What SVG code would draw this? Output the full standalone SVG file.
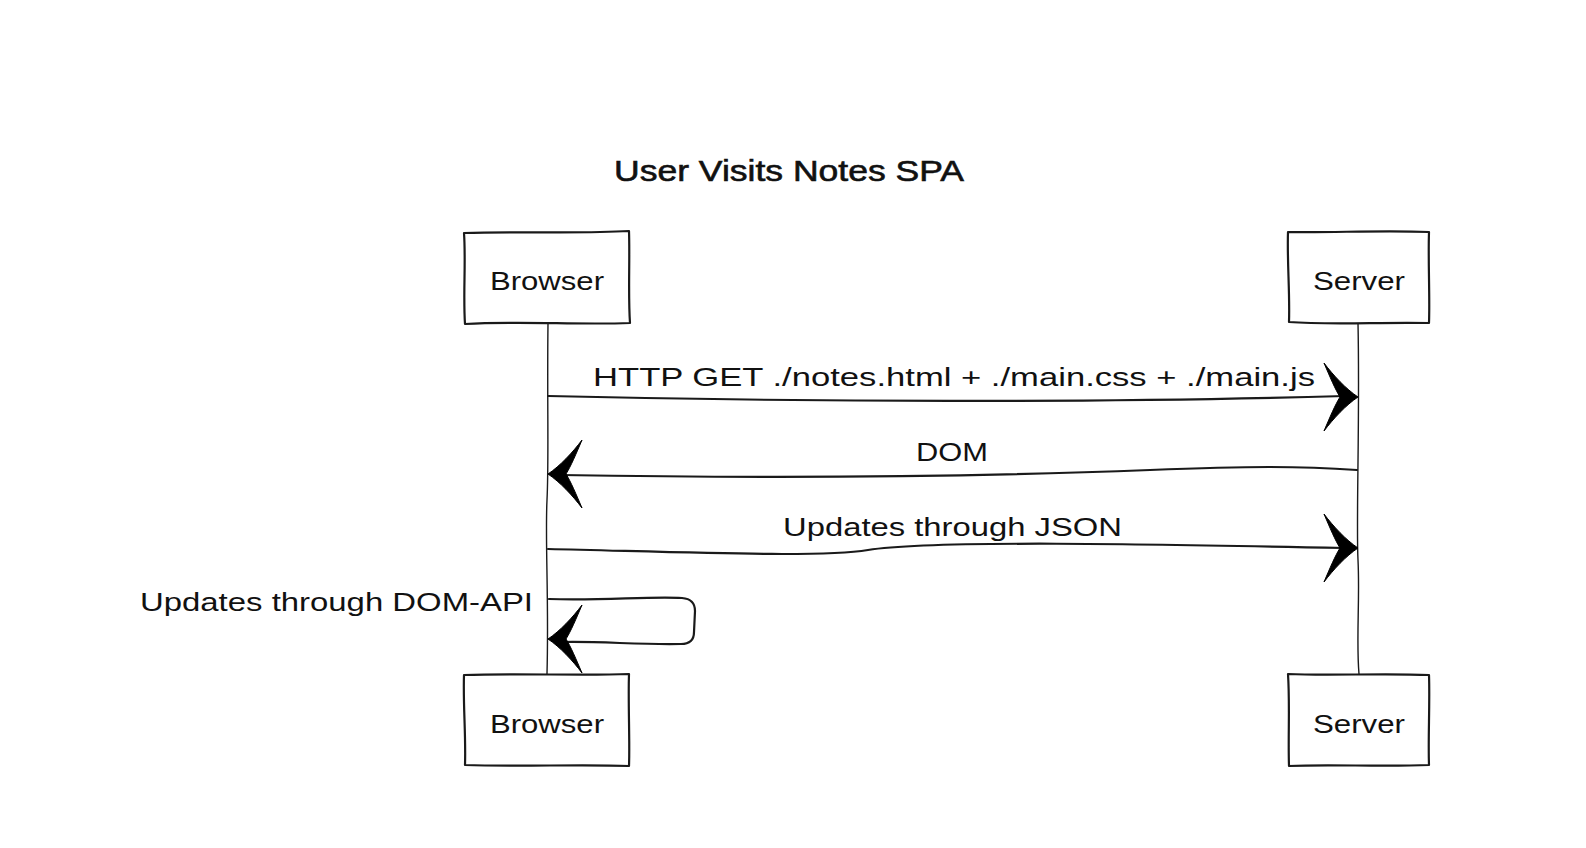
<svg xmlns="http://www.w3.org/2000/svg" xmlns:xlink="http://www.w3.org/1999/xlink" width="1586" height="848" viewBox="0 0 1586 848">
  <style>
    .bg { fill: #ffffff; }
    .box { fill: #ffffff; stroke: #1a1a1a; stroke-width: 2.2; stroke-linejoin: round; }
    .life { fill: none; stroke: #1a1a1a; stroke-width: 1.4; }
    .msg { fill: none; stroke: #1a1a1a; stroke-width: 2.2; stroke-linecap: round; }
    .head { fill: #000000; stroke: #000000; stroke-width: 1; stroke-linejoin: round; }
    .lbl { font-family: "Liberation Sans", Arial, sans-serif; font-size: 26px; fill: #111111; }
    .title { font-family: "Liberation Sans", Arial, sans-serif; font-size: 29px; fill: #111111; stroke: #111111; stroke-width: 0.6; }
  </style>
  <defs>
    <path id="dart" d="M0 0 C -12 -8 -25 -22 -34 -34 C -28 -20 -23 -8 -18 0 C -23 8 -28 20 -34 34 C -25 22 -12 8 0 0 Z"/>
  </defs>
  <rect class="bg" x="0" y="0" width="1586" height="848"/>

  <text class="title" x="614" y="181" textLength="350" lengthAdjust="spacingAndGlyphs">User Visits Notes SPA</text>

  <g id="lifelines">
    <path class="life" d="M548 323 C 547 400 549 460 547 500 C 545 540 549 600 547 674"/>
    <path class="life" d="M1358 323 C 1360 420 1356 520 1358 560 C 1360 600 1356 640 1359 674"/>
  </g>

  <g id="browser-top">
    <path class="box" d="M464 233 C 520 231 580 234 629 231 C 630 260 628 295 630 323 C 580 325 520 321 465 324 C 463 295 466 262 464 233 Z"/>
    <text class="lbl" x="490" y="290" textLength="114" lengthAdjust="spacingAndGlyphs">Browser</text>
  </g>
  <g id="server-top">
    <path class="box" d="M1288 232 C 1330 233 1380 230 1429 232 C 1428 262 1430 295 1429 323 C 1380 322 1330 325 1289 322 C 1290 292 1287 262 1288 232 Z"/>
    <text class="lbl" x="1313" y="290" textLength="92" lengthAdjust="spacingAndGlyphs">Server</text>
  </g>
  <g id="browser-bottom">
    <path class="box" d="M464 675 C 520 673 580 676 629 674 C 628 704 630 740 629 766 C 580 764 520 767 465 765 C 466 735 463 705 464 675 Z"/>
    <text class="lbl" x="490" y="733" textLength="114" lengthAdjust="spacingAndGlyphs">Browser</text>
  </g>
  <g id="server-bottom">
    <path class="box" d="M1288 674 C 1330 676 1380 673 1429 675 C 1430 705 1428 738 1429 765 C 1380 767 1330 764 1289 766 C 1288 736 1290 705 1288 674 Z"/>
    <text class="lbl" x="1313" y="733" textLength="92" lengthAdjust="spacingAndGlyphs">Server</text>
  </g>

  <g id="connectors">
    <path class="msg" d="M548 396 C 800 402 1100 403 1345 396"/>
    <use xlink:href="#dart" class="head" transform="translate(1358 397)"/>
    <text class="lbl" x="593" y="386" textLength="722" lengthAdjust="spacingAndGlyphs">HTTP GET ./notes.html + ./main.css + ./main.js</text>

    <path class="msg" d="M1357 470 C 1300 466 1250 466 1150 470 C 950 478 750 478 560 475"/>
    <use xlink:href="#dart" class="head" transform="translate(548 474) rotate(180)"/>
    <text class="lbl" x="916" y="461" textLength="72" lengthAdjust="spacingAndGlyphs">DOM</text>

    <path class="msg" d="M548 549 C 680 552 820 558 868 550 C 930 540 1150 544 1345 548"/>
    <use xlink:href="#dart" class="head" transform="translate(1358 548)"/>
    <text class="lbl" x="783" y="536" textLength="339" lengthAdjust="spacingAndGlyphs">Updates through JSON</text>

    <path class="msg" d="M549 599 C 600 601 650 596 682 598 Q 695 599 695 611 L 694 632 Q 694 644 681 644 C 640 645 600 641 562 642"/>
    <use xlink:href="#dart" class="head" transform="translate(548 639) rotate(180)"/>
    <text class="lbl" x="140" y="611" textLength="393" lengthAdjust="spacingAndGlyphs">Updates through DOM-API</text>
  </g>
</svg>
